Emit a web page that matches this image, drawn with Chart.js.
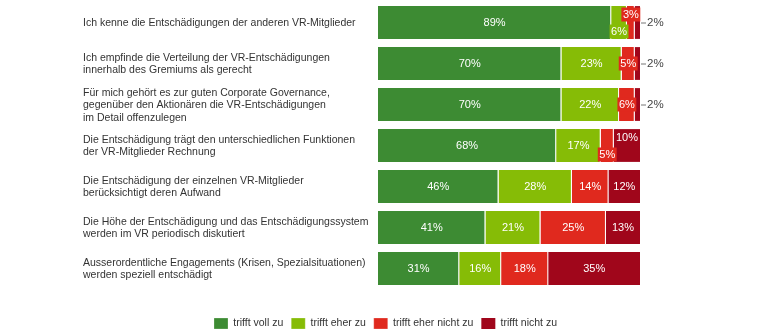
<!DOCTYPE html>
<html>
<head>
<meta charset="utf-8">
<script src="https://cdn.jsdelivr.net/npm/chart.js@4"></script>
<style>
  html, body { margin: 0; padding: 0; background: #fff; }
  #wrap { width: 782px; height: 336px; }
</style>
</head>
<body>
<div id="wrap"><canvas id="umfrage"></canvas></div>
<script>
// Aussagen (mehrzeilig wie im Original)
const aussagen = [
  ['Ich kenne die Entschädigungen der anderen VR-Mitglieder'],
  ['Ich empfinde die Verteilung der VR-Entschädigungen', 'innerhalb des Gremiums als gerecht'],
  ['Für mich gehört es zur guten Corporate Governance,', 'gegenüber den Aktionären die VR-Entschädigungen', 'im Detail offenzulegen'],
  ['Die Entschädigung trägt den unterschiedlichen Funktionen', 'der VR-Mitglieder Rechnung'],
  ['Die Entschädigung der einzelnen VR-Mitglieder', 'berücksichtigt deren Aufwand'],
  ['Die Höhe der Entschädigung und das Entschädigungssystem', 'werden im VR periodisch diskutiert'],
  ['Ausserordentliche Engagements (Krisen, Spezialsituationen)', 'werden speziell entschädigt']
];

// Antworten in %
const volltZu      = [89, 70, 70, 68, 46, 41, 31];
const eherZu       = [6, 23, 22, 17, 28, 21, 16];
const eherNichtZu  = [3, 5, 6, 5, 14, 25, 18];
const nichtZu      = [2, 2, 2, 10, 12, 13, 35];

const antworten = ['trifft voll zu', 'trifft eher zu', 'trifft eher nicht zu', 'trifft nicht zu'];
const farben = ['#3d8b33', '#86bc06', '#e0291e', '#a0061b'];

const FONT = 'Liberation Sans, Arial, sans-serif';

// Beschriftungen links neben den Balken
const aussagenPlugin = {
  id: 'aussagen',
  afterDraw(chart) {
    const ctx = chart.ctx;
    const y = chart.scales.y;
    ctx.save();
    ctx.font = '10.5px ' + FONT;
    ctx.fillStyle = '#333';
    ctx.textAlign = 'left';
    ctx.textBaseline = 'middle';
    const lh = 12.2;
    aussagen.forEach((lines, i) => {
      const cy = y.getPixelForValue(i) + 1;
      const start = cy - (lines.length - 1) * lh / 2;
      lines.forEach((l, k) => ctx.fillText(l, 83, start + k * lh));
    });
    ctx.restore();
  }
};

// Prozentwerte in den Segmenten
const werte = {
  id: 'werte',
  afterDatasetsDraw(chart) {
    const ctx = chart.ctx;
    ctx.save();
    ctx.font = '11px ' + FONT;
    ctx.textAlign = 'center';
    ctx.textBaseline = 'middle';
    const n = chart.data.labels.length;
    const last = chart.data.datasets.length - 1;
    for (let i = 0; i < n; i++) {
      const items = [];
      chart.data.datasets.forEach((ds, d) => {
        const bar = chart.getDatasetMeta(d).data[i];
        const p = bar.getProps(['x', 'y', 'base'], true);
        const l = Math.min(p.x, p.base), r = Math.max(p.x, p.base);
        const text = ds.data[i] + '%';
        const w = ctx.measureText(text).width;
        if (d === last && ds.data[i] <= 2) {
          // aussen mit Strich
          ctx.strokeStyle = '#777';
          ctx.lineWidth = 1;
          ctx.beginPath();
          ctx.moveTo(r + 1, p.y + 0.5);
          ctx.lineTo(r + 6, p.y + 0.5);
          ctx.stroke();
          ctx.fillStyle = '#444';
          ctx.textAlign = 'left';
          ctx.font = '11.5px ' + FONT;
          ctx.fillText(text, r + 7, p.y);
          ctx.font = '11px ' + FONT;
          ctx.textAlign = 'center';
          return;
        }
        items.push({ x: (l + r) / 2, y: p.y, w, seg: r - l, text, color: ds.backgroundColor, dy: 0 });
      });
      for (let k = 1; k < items.length; k++) {
        const a = items[k - 1], b = items[k];
        if (a.x + a.w / 2 + 2 > b.x - b.w / 2 - 2) {
          a.dy = 9;
          b.dy = -8;
        }
      }
      items.forEach(it => {
        const yy = it.y + it.dy;
        if (it.w + 3 > it.seg) {
          ctx.fillStyle = it.color;
          ctx.fillRect(it.x - it.w / 2 - 1.5, yy - 7, it.w + 3, 14);
        }
        ctx.fillStyle = '#fff';
        ctx.fillText(it.text, it.x, yy);
      });
    }
    ctx.restore();
  }
};

const datasets = [volltZu, eherZu, eherNichtZu, nichtZu].map((werteReihe, d) => ({
  label: antworten[d],
  data: werteReihe,
  backgroundColor: farben[d],
  borderColor: '#fff',
  borderWidth: { left: 0, right: d === 3 ? 0 : 1, top: 0, bottom: 0 },
  borderSkipped: false,
  barPercentage: 0.8,
  categoryPercentage: 1
}));

new Chart(document.getElementById('umfrage'), {
  type: 'bar',
  data: { labels: aussagen.map(a => a.join(' ')), datasets },
  plugins: [aussagenPlugin, werte],
  options: {
    indexAxis: 'y',
    responsive: true,
    maintainAspectRatio: false,
    animation: false,
    layout: { padding: { top: 2, right: 11, bottom: -3, left: 0 } },
    scales: {
      x: { stacked: true, min: 0, max: 100, display: false },
      y: {
        stacked: true,
        grid: { display: false },
        border: { display: false },
        ticks: { display: false },
        afterFit: s => { s.width = 378; }
      },
      y2: {
        position: 'right',
        grid: { display: false },
        border: { display: false },
        ticks: { display: false },
        afterFit: s => { s.width = 131; }
      }
    },
    plugins: {
      tooltip: { enabled: false },
      legend: {
        position: 'bottom',
        title: { display: true, text: ' ', font: { size: 10 }, padding: { top: 9, bottom: 0 } },
        labels: {
          boxWidth: 14,
          boxHeight: 11,
          padding: 8,
          color: '#333',
          font: { family: FONT, size: 10.5 }
        }
      }
    }
  }
});
</script>
</body>
</html>
